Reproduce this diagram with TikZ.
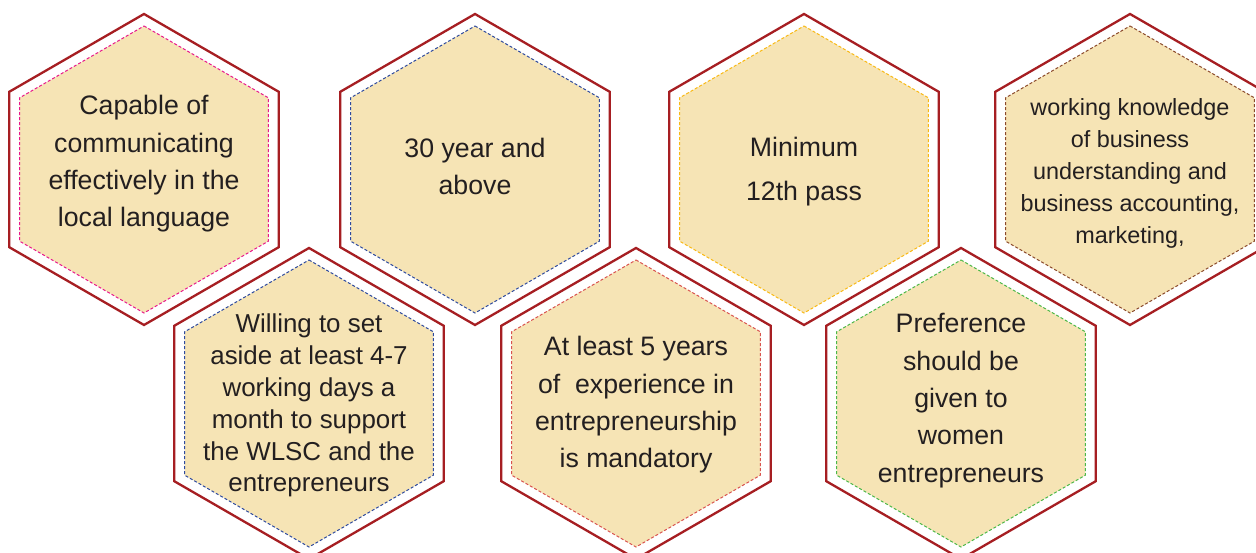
\documentclass[tikz,border=0pt]{standalone}
\usepackage{fontspec}
\setmainfont{Liberation Sans}
\definecolor{hexred}{HTML}{A61E22}
\definecolor{hexfill}{HTML}{F6E4B5}
\definecolor{txt}{HTML}{231F20}
\definecolor{cpink}{HTML}{E8198B}
\definecolor{cblue}{HTML}{2E4A9E}
\definecolor{cgold}{HTML}{F9B914}
\definecolor{cbrown}{HTML}{8B4A2B}
\definecolor{cred}{HTML}{D9534F}
\definecolor{cgreen}{HTML}{4CB848}
\tikzset{
  outerhex/.style={draw=hexred, line width=2.3bp, fill=white, line join=miter},
  innerhex/.style={draw=#1, line width=1bp, dash pattern=on 3bp off 2bp, fill=hexfill},
  hextext/.style={text=txt, align=center, inner sep=0pt, font=\fontsize{26.8}{37.5}\selectfont},
  smalltext/.style={text=txt, align=center, inner sep=0pt, font=\fontsize{23.5}{32}\selectfont},
}
\newcommand\hexpair[3]{% center x, center y, dash colour
  \draw[outerhex] (#1,#2) +(90:155.5) -- +(30:155.5) -- +(-30:155.5) -- +(-90:155.5) -- +(-150:155.5) -- +(150:155.5) -- cycle;
  \draw[innerhex=#3] (#1,#2) +(90:143.5) -- +(30:143.5) -- +(-30:143.5) -- +(-90:143.5) -- +(-150:143.5) -- +(150:143.5) -- cycle;
}
\begin{document}
\begin{tikzpicture}[x=1bp,y=1bp]
\useasboundingbox (0,0) rectangle (1256,553);
\clip (0,0) rectangle (1256,553);
% top row (y centre 553-169.5 = 383.5)
\hexpair{144}{383.5}{cpink}
\hexpair{475}{383.5}{cblue}
\hexpair{804}{383.5}{cgold}
\hexpair{1130}{383.5}{cbrown}
% bottom row (y centre 553-403.5 = 149.5)
\hexpair{309}{149.5}{cblue}
\hexpair{636}{149.5}{cred}
\hexpair{961}{149.5}{cgreen}
% texts
\node[hextext] (t1) at (144,389) {Capable of\\communicating\\effectively in the\\local language};
\node[hextext] (t2) at (475,386.5) {30 year and\\above};
\node[hextext, font=\fontsize{26.8}{44}\selectfont] (t3) at (804,381) {Minimum\\12th pass};
\node[smalltext] (t4) at (1130,379.5) {working knowledge\\of business\\understanding and\\business accounting,\\marketing,};
\node[hextext, font=\fontsize{26}{32}\selectfont] (t5) at (309,147.5) {Willing to set\\aside at least 4-7\\working days a\\month to support\\the WLSC and the\\entrepreneurs};
\node[hextext] (t6) at (636,148) {At least 5 years\\of\ \ experience in\\entrepreneurship\\is mandatory};
\node[hextext] (t7) at (961,152.5) {Preference\\should be\\given to\\women\\entrepreneurs};
\end{tikzpicture}
\end{document}
